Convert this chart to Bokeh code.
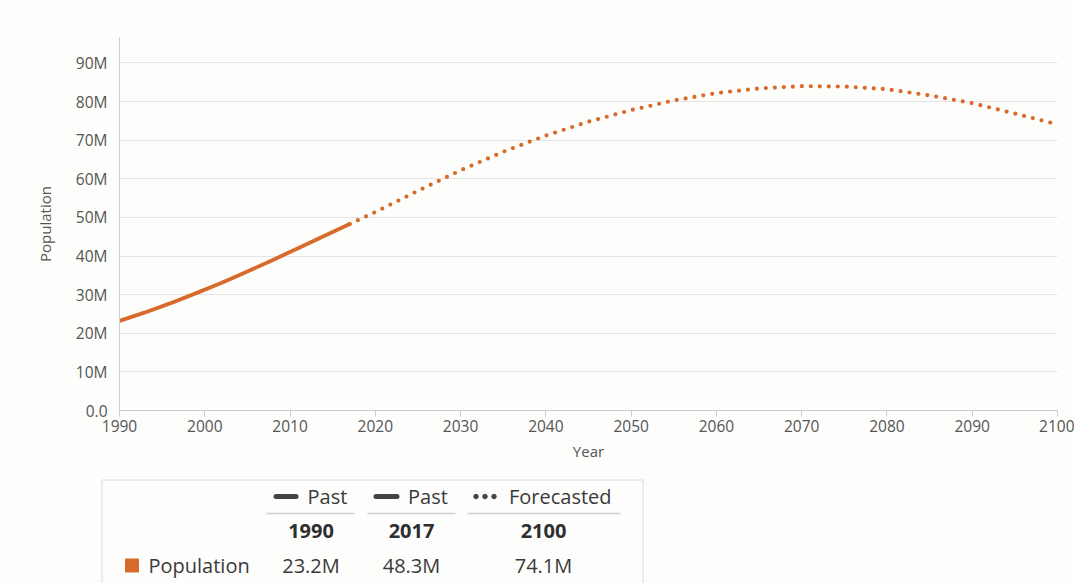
from bokeh.plotting import figure
from bokeh.layouts import column
from bokeh.models import Range1d, FixedTicker, CustomJSTickFormatter
from bokeh.core.properties import value
from bokeh.embed import file_html
from bokeh.resources import INLINE

# ---------------- data ----------------
past_years = [1990, 1993, 1996, 1999, 2002, 2005, 2008, 2011, 2014, 2017]
past_pop = [23.2, 25.4, 27.8, 30.4, 33.1, 36.0, 39.0, 42.1, 45.2, 48.3]  # millions

forecast_years = [2017, 2020, 2025, 2030, 2035, 2040, 2045, 2050, 2055, 2060,
                  2065, 2070, 2075, 2080, 2085, 2090, 2095, 2100]
forecast_pop = [48.3, 51.4, 56.9, 62.2, 67.0, 71.2, 74.8, 77.8, 80.3, 82.2,
                83.4, 84.0, 83.9, 83.2, 81.6, 79.6, 76.9, 74.1]  # millions

x_ticks = [1990, 2000, 2010, 2020, 2030, 2040, 2050, 2060, 2070, 2080, 2090, 2100]
y_ticks = [0, 10, 20, 30, 40, 50, 60, 70, 80, 90]

series_name = "Population"
table_headers = ["Past", "Past", "Forecasted"]
table_years = [past_years[0], past_years[-1], forecast_years[-1]]
table_values = [past_pop[0], past_pop[-1], forecast_pop[-1]]

# ---------------- style ----------------
ORANGE = "#d86a2b"
BG = "#fdfdfc"
FONT = "Open Sans"

p = figure(width=1074, height=468, output_backend="svg", toolbar_location=None,
           x_range=Range1d(1990, 2100), y_range=Range1d(0, 96.6),
           min_border_left=119, min_border_right=17, min_border_top=37,
           min_border_bottom=58)
p.background_fill_color = BG
p.border_fill_color = BG
p.outline_line_color = None

p.line(past_years, past_pop, line_color=ORANGE, line_width=3.8, line_cap="round",
       line_join="round")
p.line(forecast_years, forecast_pop, line_color=ORANGE, line_width=4.2,
       line_cap="round", line_dash="0 9")

p.xgrid.grid_line_color = None
p.ygrid.grid_line_color = "#e4e4e4"
p.ygrid.grid_line_width = 1

p.xaxis.ticker = FixedTicker(ticks=x_ticks)
p.yaxis.ticker = FixedTicker(ticks=y_ticks)
p.yaxis.formatter = CustomJSTickFormatter(code="return tick == 0 ? '0.0' : tick + 'M';")

for ax in (p.xaxis[0], p.yaxis[0]):
    ax.axis_line_color = "#cccccc"
    ax.axis_line_width = 1
    ax.major_tick_line_color = "#cccccc"
    ax.minor_tick_line_color = None
    ax.major_label_text_font = FONT
    ax.major_label_text_font_size = "15.5px"
    ax.major_label_text_color = "#555555"
    ax.axis_label_text_font = FONT
    ax.axis_label_text_font_size = "15px"
    ax.axis_label_text_font_style = "normal"
    ax.axis_label_text_color = "#555555"

p.xaxis.axis_label = "Year"
p.xaxis.major_tick_out = 6
p.xaxis.major_tick_in = 0
p.xaxis.major_label_standoff = 3
p.xaxis.axis_label_standoff = 6

p.yaxis.axis_label = "Population"
p.yaxis.major_tick_out = 0
p.yaxis.major_tick_in = 0
p.yaxis.major_label_standoff = 12
p.yaxis.axis_label_standoff = 18

# ---------------- legend table (pixel-like coordinates, y downward) ----------------
t = figure(width=1074, height=115, output_backend="svg", toolbar_location=None,
           x_range=Range1d(0, 1074), y_range=Range1d(583, 468),
           min_border=0)
if "frame_align" in t.properties():
    t.frame_align = False
    p.frame_align = False
t.background_fill_color = BG
t.border_fill_color = BG
t.outline_line_color = None
t.axis.visible = False
t.grid.visible = False

# box
t.multi_line(xs=[[101.5, 101.5, 642.5, 642.5]], ys=[[600, 479.5, 479.5, 600]],
             line_color="#dadada", line_width=1)

col_centers = [310.5, 411, 543]
row_head, row_year, row_val = 496, 530.5, 565
TXT = "#3a3a3a"

# header symbols
t.multi_line(xs=[[275.5, 295.5], [375.5, 396.5]], ys=[[row_head, row_head], [row_head, row_head]],
             line_color="#444444", line_width=5, line_cap="round")
t.scatter([475.5, 484.5, 493.5], [row_head] * 3, size=4.5, color="#444444")
t.text([307, 407.5, 508.5], [row_head] * 3, text=table_headers,
       text_font=value(FONT), text_font_size="20px", text_color=TXT,
       text_align="left", text_baseline="middle")

# underlines
t.multi_line(xs=[[266, 354], [367, 455], [467, 620]], ys=[[513, 513]] * 3,
             line_color="#d0d0d0", line_width=1.3)

# years
t.text(col_centers, [row_year] * 3, text=[str(y) for y in table_years],
       text_font=value(FONT), text_font_size="20px", text_font_style="bold",
       text_color="#2e2e2e", text_align="center", text_baseline="middle")

# series row
t.scatter([131.5], [row_val], marker="square", size=13, color=ORANGE)
t.text([148], [row_val], text=[series_name], text_font=value(FONT),
       text_font_size="20px", text_color=TXT, text_align="left", text_baseline="middle")
t.text(col_centers, [row_val] * 3, text=[f"{v:.1f}M" for v in table_values],
       text_font=value(FONT), text_font_size="20px", text_color=TXT,
       text_align="center", text_baseline="middle")

layout = column(p, t, spacing=0)
open("out.html", "w").write(file_html(layout, INLINE))
